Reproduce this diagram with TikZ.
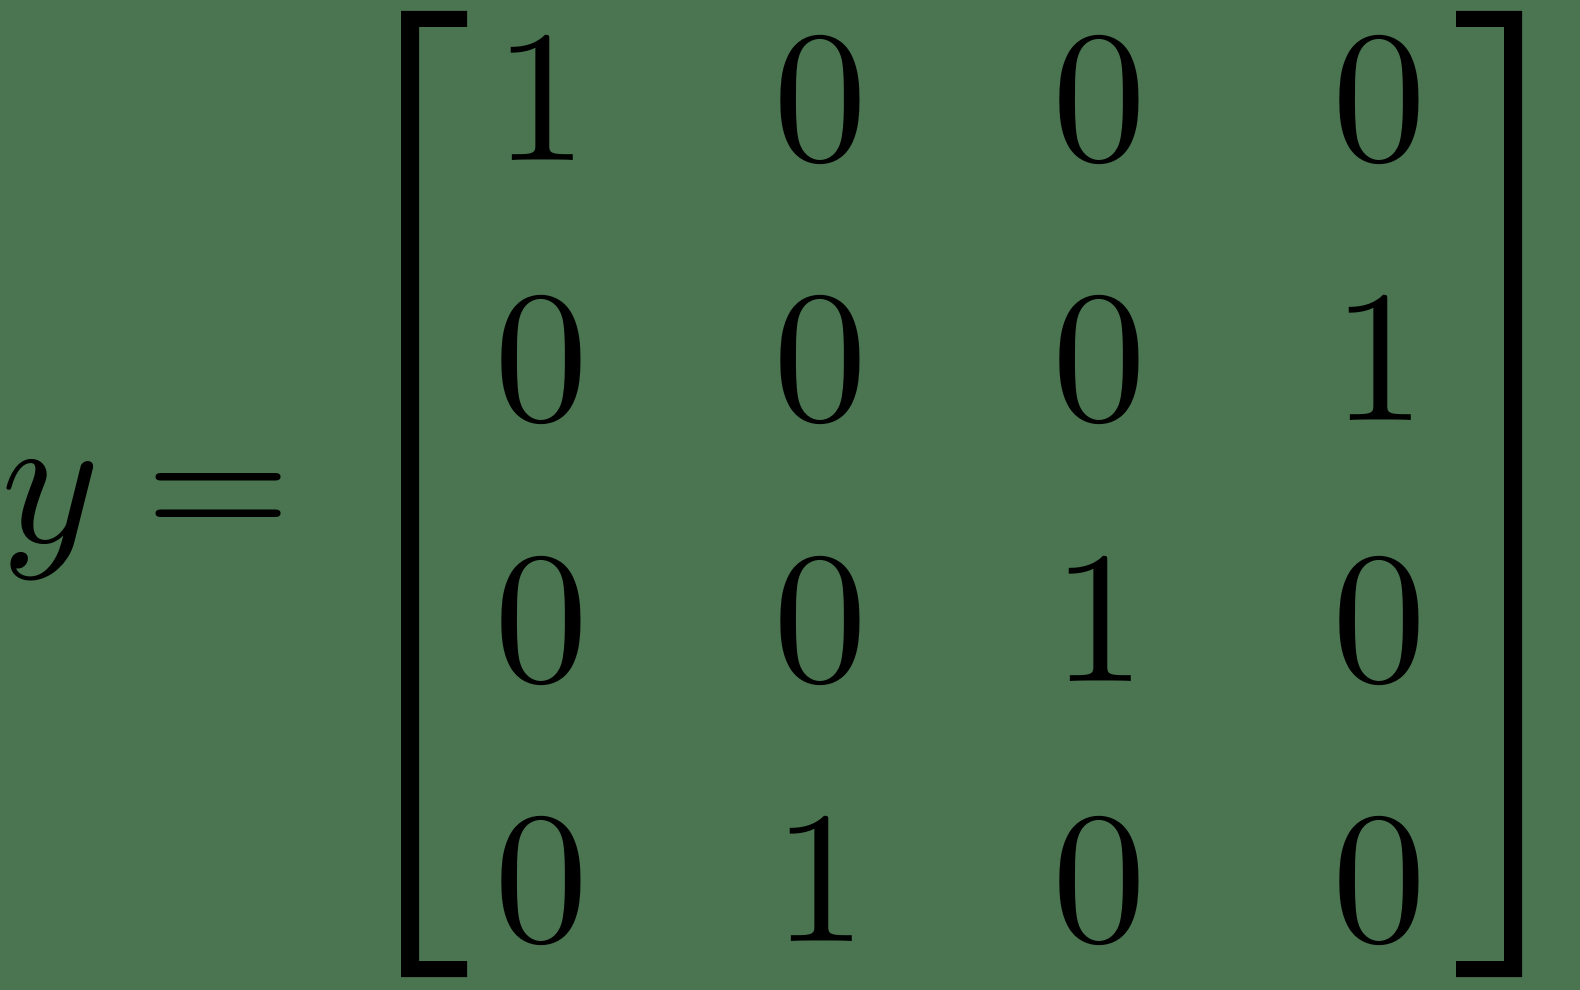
\documentclass[tikz,border=0pt]{standalone}
\usepackage{graphicx}
\definecolor{bgreen}{RGB}{74,117,80}
\tikzset{
  glyph/.style={inner sep=0pt, outer sep=0pt, anchor=base, text=black},
  brk/.style={fill=black, draw=none}
}
\newcommand{\hugeglyph}[1]{\scalebox{18.8}{$#1$}}
\begin{document}
\begin{tikzpicture}[x=1pt,y=-1pt]
  \fill[bgreen] (0,0) rectangle (1580,990);
  \useasboundingbox (0,0) rectangle (1580,990);
  % left side
  \node[glyph] (yy) at (51,542) {\hugeglyph{y}};
  \node[glyph] (eq) at (218.5,542) {\hugeglyph{=}};
  % brackets
  \fill[brk] (401,11) -- (467,11) -- (467,27) -- (419,27) -- (419,961) -- (467,961) -- (467,977) -- (401,977) -- cycle;
  \fill[brk] (1522,11) -- (1456,11) -- (1456,27) -- (1504,27) -- (1504,961) -- (1456,961) -- (1456,977) -- (1522,977) -- cycle;
  % matrix entries
  \foreach \r/\yb/\a/\b/\c/\d in {1/160/1/0/0/0, 2/420/0/0/0/1, 3/681/0/0/1/0, 4/941/0/1/0/0}{
    \node[glyph] (m\r1) at (541,\yb) {\hugeglyph{\a}};
    \node[glyph] (m\r2) at (820,\yb) {\hugeglyph{\b}};
    \node[glyph] (m\r3) at (1099,\yb) {\hugeglyph{\c}};
    \node[glyph] (m\r4) at (1379,\yb) {\hugeglyph{\d}};
  }
\end{tikzpicture}
\end{document}
